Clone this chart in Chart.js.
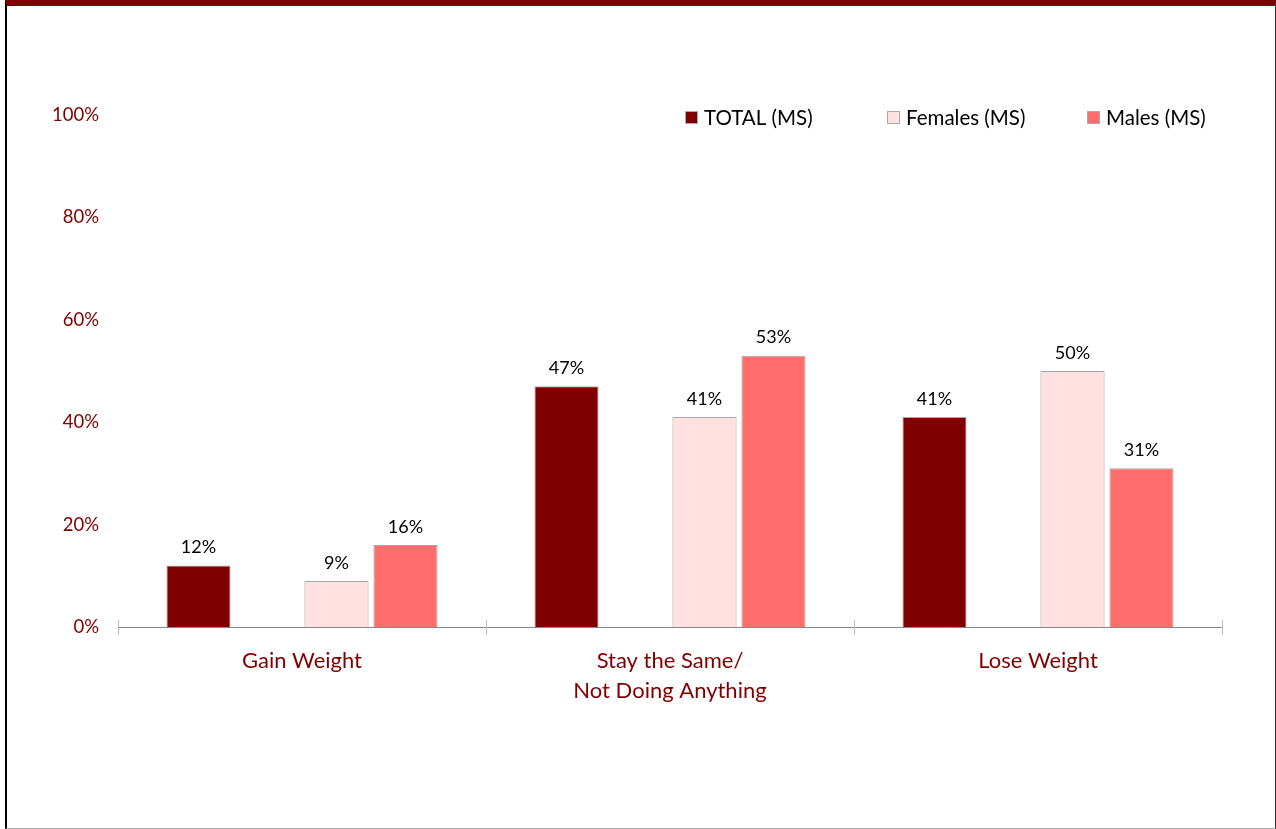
<!DOCTYPE html>
<html>
<head>
<meta charset="utf-8">
<script src="https://cdn.jsdelivr.net/npm/chart.js@4"></script>
<style>
  html, body { margin: 0; padding: 0; background: #fff; }
  #wrap { position: absolute; left: 0; top: 0; width: 1276px; height: 829px; }
  #frame { position: absolute; left: 5px; top: 0; width: 1268px; height: 822px;
           border-left: 2px solid #000; border-right: 1px solid #333;
           border-top: 6px solid #800000; border-bottom: 1px solid #aaa; pointer-events: none; }
</style>
</head>
<body>
<div id="wrap"><canvas id="barChart" width="1276" height="829"></canvas></div>
<div id="frame"></div>
<script>
const categories = [['Gain Weight'], ['Stay the Same/', 'Not Doing Anything'], ['Lose Weight']]
const seriesNames = ['TOTAL (MS)', 'Females (MS)', 'Males (MS)']
const totalVals = [12, 47, 41]
const femaleVals = [9, 41, 50]
const maleVals = [16, 53, 31]
const yTicks = [0, 20, 40, 60, 80, 100]

const FONT = 'Lato, "Open Sans", sans-serif'
const colors = ['#800000', '#FFE1E1', '#FF6D6D']

// value labels above bars, tick crosses and legend
const extras = {
    id: 'extras',
    afterDatasetsDraw(chart) {
        const c = chart.ctx
        c.save()
        c.font = '18px ' + FONT
        c.fillStyle = '#000'
        c.textAlign = 'center'
        c.textBaseline = 'bottom'
        chart.data.datasets.forEach((ds, i) => {
            if (!ds.showValue) return
            chart.getDatasetMeta(i).data.forEach((bar, j) => {
                c.fillText(ds.data[j] + '%', bar.x, bar.y - 9)
            })
        })
        // x tick marks
        const x = chart.scales.x, y = chart.scales.y
        const base = y.getPixelForValue(0)
        c.strokeStyle = '#bbb'
        c.lineWidth = 1
        for (let k = 0; k <= categories.length; k++) {
            const px = Math.round(x.left + k * (x.width / categories.length)) + 0.5
            c.beginPath()
            c.moveTo(px, base - 7)
            c.lineTo(px, base + 8)
            c.stroke()
        }
        // legend
        const leg = [[685, 0], [887, 1], [1087, 2]]
        c.textAlign = 'left'
        c.textBaseline = 'middle'
        c.font = '20.5px ' + FONT
        leg.forEach(([lx, k]) => {
            c.fillStyle = colors[k]
            c.fillRect(lx, 111, 13, 13)
            c.strokeStyle = '#aaa'
            c.strokeRect(lx + 0.5, 111.5, 12, 12)
            c.fillStyle = '#000'
            c.fillText(seriesNames[k], lx + 19, 118)
        })
        c.restore()
    }
}

const ctx = document.getElementById('barChart')

new Chart(ctx, {
    type: 'bar',
    data: {
        labels: categories,
        datasets: [
            { label: seriesNames[0], data: totalVals, backgroundColor: colors[0], showValue: true },
            { label: '', data: [null, null, null] },
            { label: seriesNames[1], data: femaleVals, backgroundColor: colors[1], showValue: true },
            { label: seriesNames[2], data: maleVals, backgroundColor: colors[2], showValue: true }
        ].map(d => Object.assign({
            borderColor: '#a6a6a6',
            borderWidth: 1,
            categoryPercentage: 0.75,
            barPercentage: 0.93
        }, d))
    },
    options: {
        responsive: false,
        animation: false,
        layout: { padding: { left: 0, right: 54, top: 115, bottom: 0 } },
        plugins: { legend: { display: false }, tooltip: { enabled: false } },
        scales: {
            x: {
                grid: { display: false },
                border: { display: true, color: '#888', width: 1 },
                ticks: { color: '#800000', font: { family: FONT, size: 22, lineHeight: 1.36 }, padding: 11, maxRotation: 0 },
                afterFit: s => { s.height = 202 }
            },
            y: {
                min: 0, max: 100,
                afterBuildTicks: s => { s.ticks = yTicks.map(v => ({ value: v })) },
                grid: { display: false },
                border: { display: false },
                ticks: { color: '#800000', font: { family: FONT, size: 18.5 }, padding: 11,
                         callback: v => v + '%' },
                afterFit: s => { s.width = 118 }
            }
        }
    },
    plugins: [extras]
})
</script>
</body>
</html>
